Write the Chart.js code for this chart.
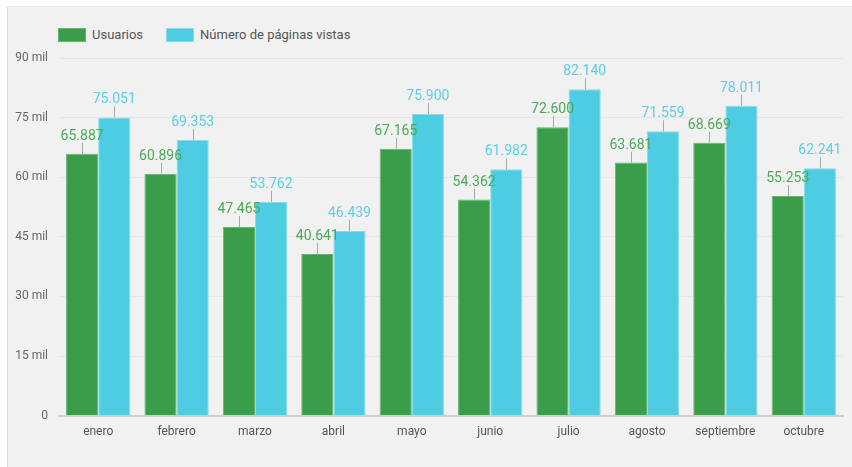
<!DOCTYPE html>
<html>
<head>
<meta charset="utf-8">
<script src="https://cdn.jsdelivr.net/npm/chart.js@4.4.1/dist/chart.umd.min.js"></script>
<style>
  html, body { margin: 0; padding: 0; background: #fff; font-family: Roboto, sans-serif; }
  #tarjeta {
    position: absolute; left: 7px; top: 6px; width: 845px; height: 461px;
    background: #f1f1f1; border-left: 1px solid #dcdcdc; border-top: 1px solid #ececec;
    box-sizing: border-box;
  }
  #contenedor { position: absolute; left: 0; top: 0; width: 844px; height: 460px; }
  #leyenda { position: absolute; left: 50px; top: 20px; font-size: 13px; color: #555; display: flex; }
  #leyenda .item { display: flex; align-items: center; margin-right: 23px; }
  #leyenda .caja { width: 28px; height: 14px; margin-right: 6px; box-sizing: border-box; }
</style>
</head>
<body>
<div id="tarjeta">
  <div id="leyenda"></div>
  <div id="contenedor"><canvas id="grafica"></canvas></div>
</div>
<script>
// datos
const meses = ['enero', 'febrero', 'marzo', 'abril', 'mayo', 'junio', 'julio', 'agosto', 'septiembre', 'octubre'];
const usuarios = [65887, 60896, 47465, 40641, 67165, 54362, 72600, 63681, 68669, 55253];
const paginasVistas = [75051, 69353, 53762, 46439, 75900, 61982, 82140, 71559, 78011, 62241];
const ticksY = [0, 15000, 30000, 45000, 60000, 75000, 90000];

const colorVerde = '#3a9d4a';
const colorCian = '#4ecce1';

function formatoMiles(v) {
    return String(v).replace(/\B(?=(\d{3})+(?!\d))/g, '.');
}

// etiquetas encima de cada barra con su rayita
const etiquetasBarras = {
    id: 'etiquetasBarras',
    afterDatasetsDraw(chart) {
        const ctx = chart.ctx;
        ctx.save();
        ctx.font = '14px Roboto';
        ctx.textAlign = 'center';
        ctx.textBaseline = 'alphabetic';
        chart.data.datasets.forEach((ds, i) => {
            const meta = chart.getDatasetMeta(i);
            meta.data.forEach((bar, j) => {
                ctx.strokeStyle = '#a8a8a8';
                ctx.lineWidth = 1;
                ctx.beginPath();
                ctx.moveTo(Math.round(bar.x) + 0.5, bar.y);
                ctx.lineTo(Math.round(bar.x) + 0.5, bar.y - 11);
                ctx.stroke();
                ctx.fillStyle = ds.labelColor;
                ctx.fillText(formatoMiles(ds.data[j]), bar.x, bar.y - 14);
            });
        });
        ctx.restore();
    }
};

Chart.defaults.font.family = 'Roboto';

const ctx = document.getElementById('grafica').getContext('2d');
const chart = new Chart(ctx, {
    type: 'bar',
    data: {
        labels: meses,
        datasets: [
            {
                label: 'Usuarios',
                data: usuarios,
                backgroundColor: colorVerde,
                borderColor: '#62b56f',
                borderWidth: 1,
                labelColor: '#4aab57',
                categoryPercentage: 0.82,
                barPercentage: 1.0
            },
            {
                label: 'Número de páginas vistas',
                data: paginasVistas,
                backgroundColor: colorCian,
                borderColor: '#86dceb',
                borderWidth: 1,
                labelColor: '#5ccfe3',
                categoryPercentage: 0.82,
                barPercentage: 1.0
            }
        ]
    },
    options: {
        responsive: true,
        maintainAspectRatio: false,
        animation: false,
        layout: {
            padding: { left: 0, right: 9, top: 51, bottom: 27 }
        },
        plugins: {
            legend: { display: false },
            tooltip: { enabled: false }
        },
        scales: {
            x: {
                grid: { display: false },
                border: { display: true, color: '#cfcfcf', width: 2 },
                ticks: { color: '#555', font: { size: 12 }, padding: 1 }
            },
            y: {
                min: 0,
                max: 90000,
                afterBuildTicks: axis => { axis.ticks = ticksY.map(v => ({ value: v })); },
                afterFit: axis => { axis.width = 51; },
                grid: { color: '#e6e6e6', drawTicks: false },
                border: { display: false },
                ticks: {
                    color: '#666',
                    font: { size: 12 },
                    padding: 11,
                    callback: v => v === 0 ? '0' : (v / 1000) + ' mil'
                }
            }
        }
    },
    plugins: [etiquetasBarras]
});

// leyenda en html
const leyenda = document.getElementById('leyenda');
chart.data.datasets.forEach(ds => {
    const item = document.createElement('div');
    item.className = 'item';
    const caja = document.createElement('span');
    caja.className = 'caja';
    caja.style.background = ds.backgroundColor;
    caja.style.border = '1px solid ' + ds.borderColor;
    const texto = document.createElement('span');
    texto.textContent = ds.label;
    item.appendChild(caja);
    item.appendChild(texto);
    leyenda.appendChild(item);
});
</script>
</body>
</html>
